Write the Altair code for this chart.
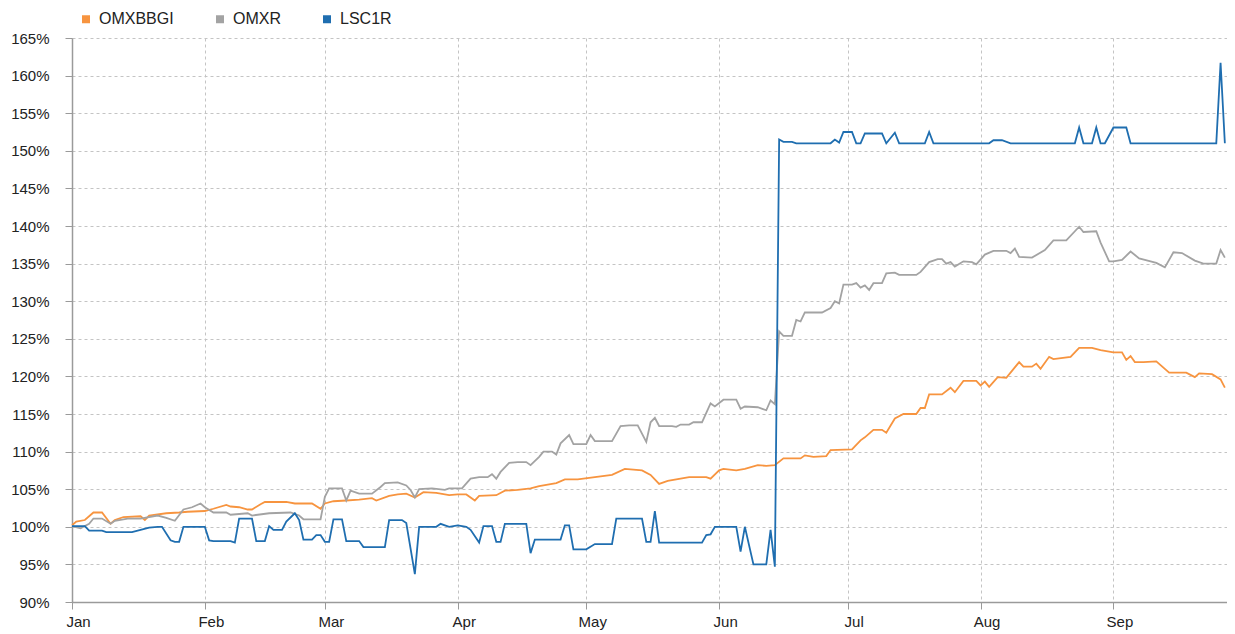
import altair as alt
import pandas as pd

START = "2011-01-01"
series_names = ["OMXBBGI", "OMXR", "LSC1R"]
series_colors = ["#f7943f", "#a3a3a3", "#1f6eb0"]

# day offsets from 1 Jan and index values (%)
omxbbgi_days = [0, 1, 3, 5, 7, 9, 10, 12, 16, 17,
                18, 22, 25, 27, 31, 33, 36, 37, 39, 41,
                42, 44, 45, 50, 52, 55, 56, 58, 59, 61,
                64, 67, 70, 71, 74, 76, 78, 80, 82, 85,
                88, 90, 92, 94, 95, 99, 101, 104, 107, 109,
                113, 115, 118, 122, 126, 129, 133, 135, 137, 139,
                143, 144, 148, 149, 151, 152, 155, 157, 160, 162,
                164, 166, 170, 171, 173, 176, 177, 182, 184, 185,
                187, 189, 190, 192, 194, 197, 198, 199, 200, 203,
                205, 206, 208, 211, 212, 213, 214, 216, 218, 221,
                222, 224, 225, 226, 228, 229, 233, 235, 238, 240,
                243, 245, 246, 247, 248, 250, 253, 256, 260, 262,
                263, 266, 268, 269]
omxbbgi_vals = [100.2, 100.7, 100.9, 101.9, 101.9, 100.4, 100.9, 101.3, 101.4, 100.9,
                101.5, 101.8, 101.9, 102.0, 102.1, 102.4, 102.9, 102.7, 102.6, 102.3,
                102.3, 103.0, 103.3, 103.3, 103.1, 103.1, 103.1, 102.4, 103.1, 103.4,
                103.5, 103.6, 103.8, 103.5, 104.1, 104.3, 104.4, 103.9, 104.6, 104.5,
                104.2, 104.3, 104.3, 103.5, 104.1, 104.2, 104.8, 104.9, 105.1, 105.4,
                105.8, 106.3, 106.3, 106.6, 106.9, 107.7, 107.5, 106.9, 105.7, 106.1,
                106.5, 106.6, 106.6, 106.4, 107.5, 107.7, 107.5, 107.7, 108.2, 108.1,
                108.2, 109.1, 109.1, 109.5, 109.3, 109.4, 110.2, 110.3, 111.5, 111.9,
                112.9, 112.9, 112.5, 114.4, 115.0, 115.0, 115.8, 115.8, 117.6, 117.6,
                118.5, 117.9, 119.4, 119.4, 118.8, 119.3, 118.6, 119.9, 119.8, 121.9,
                121.3, 121.3, 121.7, 121.0, 122.6, 122.3, 122.6, 123.8, 123.8, 123.5,
                123.2, 123.2, 122.2, 122.7, 121.9, 121.9, 122.0, 120.5, 120.5, 119.9,
                120.4, 120.3, 119.6, 118.5]

omxr_days = [0, 2, 4, 5, 7, 9, 10, 13, 16, 20,
             22, 24, 26, 28, 30, 31, 33, 36, 37, 41,
             42, 46, 51, 53, 54, 58, 59, 60, 63, 64,
             65, 67, 70, 72, 73, 76, 78, 79, 80, 81,
             84, 87, 88, 91, 93, 95, 97, 98, 99, 100,
             102, 104, 106, 107, 109, 110, 112, 113, 114, 116,
             117, 120, 121, 122, 126, 128, 130, 132, 134, 135,
             136, 137, 140, 141, 142, 144, 145, 147, 149, 150,
             152, 155, 156, 157, 160, 162, 163, 164, 165, 166,
             168, 169, 170, 171, 175, 177, 178, 179, 180, 182,
             183, 184, 185, 186, 187, 189, 190, 192, 193, 197,
             198, 200, 202, 203, 204, 205, 206, 208, 210, 211,
             213, 215, 218, 219, 220, 221, 224, 227, 229, 232,
             235, 236, 239, 240, 242, 243, 245, 247, 249, 251,
             253, 255, 257, 259, 262, 264, 267, 268, 269]
omxr_vals = [100.1, 99.8, 100.4, 101.1, 101.1, 100.4, 100.8, 101.1, 101.1, 101.5,
             101.2, 100.8, 102.3, 102.6, 103.1, 102.6, 101.9, 101.9, 101.6, 101.8,
             101.5, 101.8, 101.9, 101.5, 101.0, 101.0, 104.0, 105.1, 105.1, 103.5,
             104.8, 104.4, 104.4, 105.3, 105.8, 105.9, 105.5, 104.9, 103.9, 105.0,
             105.1, 104.9, 105.1, 105.1, 106.4, 106.6, 106.6, 107.0, 106.4, 107.3,
             108.5, 108.6, 108.6, 108.2, 109.3, 110.0, 110.0, 109.6, 111.1, 112.2,
             111.0, 111.0, 112.2, 111.4, 111.4, 113.4, 113.5, 113.5, 111.3, 113.9,
             114.5, 113.4, 113.4, 113.3, 113.6, 113.6, 113.9, 113.9, 116.4, 116.0,
             116.9, 116.9, 115.7, 116.0, 115.9, 115.5, 116.8, 116.3, 126.0, 125.4,
             125.4, 127.5, 127.3, 128.5, 128.5, 129.1, 130.0, 129.7, 132.2, 132.2,
             132.4, 131.8, 132.1, 131.5, 132.4, 132.4, 133.7, 133.8, 133.5, 133.5,
             133.9, 135.2, 135.6, 135.6, 135.0, 135.2, 134.6, 135.3, 135.2, 134.9,
             136.2, 136.7, 136.7, 136.4, 137.0, 135.9, 135.8, 136.8, 138.1, 138.1,
             139.9, 139.2, 139.3, 137.8, 135.3, 135.3, 135.5, 136.6, 135.7, 135.4,
             135.1, 134.5, 136.5, 136.4, 135.4, 135.0, 135.0, 136.8, 135.8]

lsc1r_days = [0, 3, 4, 7, 8, 14, 16, 18, 20, 21,
              23, 24, 25, 26, 31, 32, 33, 37, 38, 39,
              42, 43, 45, 46, 47, 49, 50, 52, 53, 54,
              56, 57, 58, 59, 60, 61, 63, 64, 67, 68,
              73, 74, 77, 78, 80, 81, 85, 86, 88, 90,
              92, 93, 95, 96, 98, 99, 100, 101, 106, 107,
              108, 114, 115, 116, 117, 120, 122, 126, 127, 133,
              134, 135, 136, 137, 147, 148, 149, 150, 155, 156,
              157, 159, 162, 163, 164, 165, 166, 168, 169, 177,
              178, 179, 180, 182, 183, 184, 185, 189, 190, 192,
              193, 199, 200, 201, 214, 215, 217, 219, 234, 235,
              236, 238, 239, 240, 241, 243, 246, 247, 267, 268,
              269]
lsc1r_vals = [100.1, 100.1, 99.5, 99.5, 99.3, 99.3, 99.6, 99.9, 100.0, 100.0,
              98.2, 98.0, 98.0, 100.0, 100.0, 98.2, 98.1, 98.1, 97.9, 101.1,
              101.1, 98.1, 98.1, 100.1, 99.6, 99.6, 100.7, 101.8, 100.9, 98.3,
              98.3, 98.9, 98.9, 98.0, 98.0, 101.0, 101.0, 98.1, 98.1, 97.3,
              97.3, 100.9, 100.9, 100.5, 93.7, 100.0, 100.0, 100.4, 100.0, 100.2,
              100.0, 99.6, 97.9, 100.1, 100.1, 98.0, 98.0, 100.4, 100.4, 96.5,
              98.3, 98.3, 100.2, 100.2, 97.0, 97.0, 97.7, 97.7, 101.1, 101.1,
              98.0, 98.0, 102.1, 97.9, 97.9, 98.9, 99.0, 100.0, 100.0, 96.7,
              100.0, 95.0, 95.0, 99.6, 94.7, 151.5, 151.2, 151.2, 151.0, 151.0,
              151.5, 151.1, 152.5, 152.5, 151.0, 151.0, 152.3, 152.3, 151.0, 152.4,
              151.0, 151.0, 152.5, 151.0, 151.0, 151.4, 151.4, 151.0, 151.0, 153.1,
              151.0, 151.0, 153.1, 151.0, 151.0, 153.1, 153.1, 151.0, 151.0, 161.7,
              151.0]

y_ticks = [90, 95, 100, 105, 110, 115, 120, 125, 130, 135, 140, 145, 150, 155, 160, 165]

start = pd.Timestamp(START)
rows = []
for name, days, vals in [("OMXBBGI", omxbbgi_days, omxbbgi_vals),
                         ("OMXR", omxr_days, omxr_vals),
                         ("LSC1R", lsc1r_days, lsc1r_vals)]:
    for d, v in zip(days, vals):
        rows.append({"series": name, "date": start + pd.Timedelta(days=d), "value": v})
df = pd.DataFrame(rows)

FONT = "Liberation Sans"

x_domain = [alt.DateTime(year=2011, month=1, date=1),
            alt.DateTime(year=2011, month=9, date=27, hours=12)]

chart = alt.Chart(df).mark_line(strokeWidth=1.8, interpolate="linear").encode(
    x=alt.X("date:T",
            scale=alt.Scale(domain=x_domain, nice=False),
            axis=alt.Axis(title=None, format="%b",
                          tickCount={"interval": "month", "step": 1},
                          labelFlush=False, labelOffset=6, labelPadding=5,
                          tickSize=7)),
    y=alt.Y("value:Q",
            scale=alt.Scale(domain=[90, 165], nice=False, zero=False),
            axis=alt.Axis(title=None, values=y_ticks,
                          labelExpr="datum.value + '%'",
                          tickSize=7, labelPadding=16)),
    color=alt.Color("series:N",
                    scale=alt.Scale(domain=series_names, range=series_colors),
                    legend=alt.Legend(
                        title=None, orient="none", direction="horizontal",
                        legendX=6, legendY=-27, padding=0,
                        symbolType="square", symbolSize=9,
                        symbolStrokeWidth=5,
                        labelFont=FONT, labelFontSize=16, labelColor="#222",
                        labelOffset=5, columnPadding=34)),
).properties(
    width=1155, height=564,
    autosize="none",
    padding={"left": 64, "top": 30, "right": 0, "bottom": 31},
).configure_view(
    stroke=None
).configure_axis(
    labelFont=FONT, labelFontSize=15, labelColor="#222",
    domainColor="#9a9a9a", tickColor="#9a9a9a", domainWidth=1.5,
    gridColor="#c4c4c4", gridDash=[3, 3], gridWidth=1,
)

chart.save("out.html", embed_options={"renderer": "svg", "actions": False})
